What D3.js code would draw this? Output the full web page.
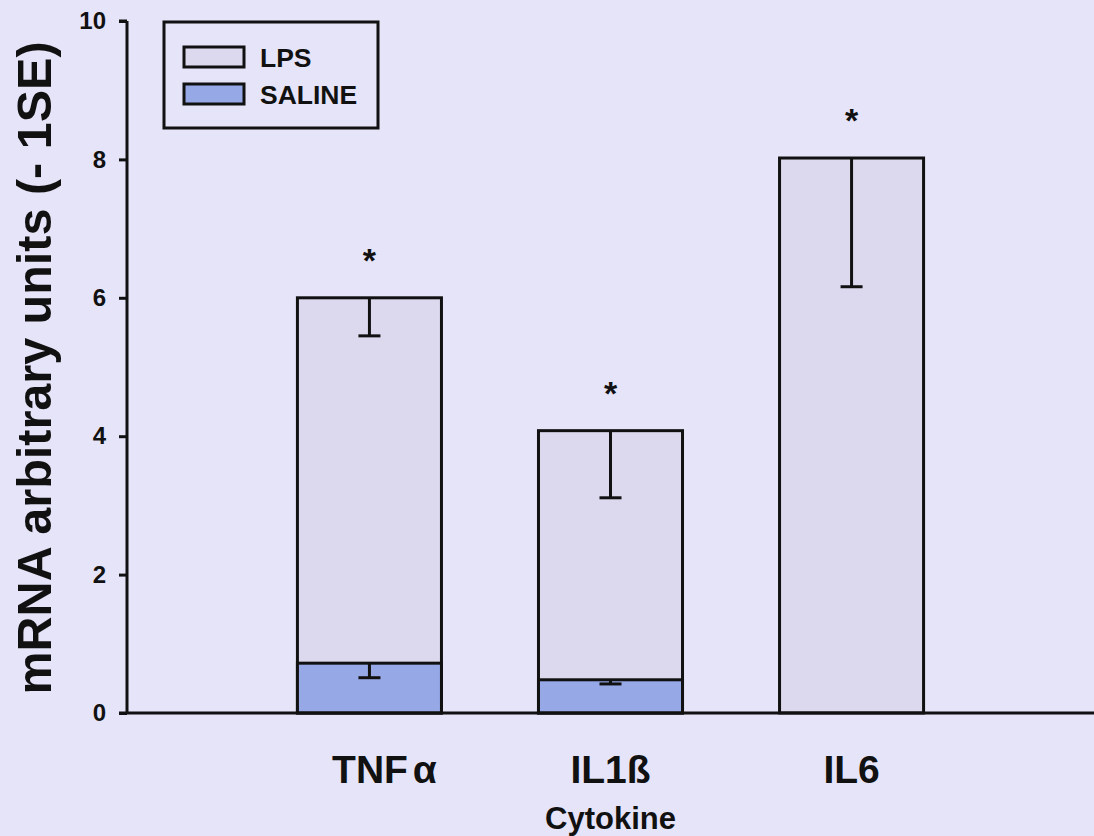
<!DOCTYPE html>
<html>
<head>
<meta charset="utf-8">
<script src="https://cdn.jsdelivr.net/npm/d3@7"></script>
<style>
  html, body { margin: 0; padding: 0; background: #e6e4f8; }
  svg { display: block; }
  text { font-family: "Liberation Sans", Arial, sans-serif; font-weight: bold; fill: #111; }
</style>
</head>
<body>
<svg id="chart" width="1094" height="836"></svg>
<script>
const categories = ["TNFα", "IL1ß", "IL6"];
const lpsValues = [6.0, 4.08, 8.02];
const lpsErrors = [0.55, 0.97, 1.86];
const salineValues = [0.72, 0.48, 0];
const salineErrors = [0.21, 0.06, 0];
const significant = [true, true, true];
const yTicks = [0, 2, 4, 6, 8, 10];
const seriesNames = ["LPS", "SALINE"];
const seriesColors = ["#dcd9ee", "#97a8e6"];

const svg = d3.select("#chart");
const W = 1094, H = 836;
const axisX = 127;

const y = d3.scaleLinear().domain([0, 10]).range([713, 21]);
const x = d3.scaleBand().domain(categories).range([axisX, W])
  .paddingInner(0.4025).paddingOuter(0.707);

const bw = x.bandwidth();

// LPS bars
svg.append("g").selectAll("rect").data(categories).join("rect")
  .attr("x", d => x(d))
  .attr("y", (d, i) => y(lpsValues[i]))
  .attr("width", bw)
  .attr("height", (d, i) => y(0) - y(lpsValues[i]))
  .attr("fill", seriesColors[0])
  .attr("stroke", "#111").attr("stroke-width", 3);

// Saline bars
svg.append("g").selectAll("rect").data(categories.filter((d, i) => salineValues[i] > 0)).join("rect")
  .attr("x", d => x(d))
  .attr("y", d => y(salineValues[categories.indexOf(d)]))
  .attr("width", bw)
  .attr("height", d => y(0) - y(salineValues[categories.indexOf(d)]))
  .attr("fill", seriesColors[1])
  .attr("stroke", "#111").attr("stroke-width", 3);

// error bars (downward, -1SE)
function errBars(vals, errs) {
  const g = svg.append("g").attr("stroke", "#111").attr("stroke-width", 3);
  categories.forEach((c, i) => {
    if (!errs[i]) return;
    const cx = x(c) + bw / 2;
    g.append("line").attr("x1", cx).attr("x2", cx)
      .attr("y1", y(vals[i])).attr("y2", y(vals[i] - errs[i]));
    g.append("line").attr("x1", cx - 11).attr("x2", cx + 11)
      .attr("y1", y(vals[i] - errs[i])).attr("y2", y(vals[i] - errs[i]));
  });
}
errBars(lpsValues, lpsErrors);
errBars(salineValues, salineErrors);

// significance stars
svg.append("g").selectAll("text").data(categories.filter((d, i) => significant[i])).join("text")
  .attr("x", d => x(d) + bw / 2)
  .attr("y", d => y(lpsValues[categories.indexOf(d)]) - 26)
  .attr("text-anchor", "middle")
  .attr("font-size", 34)
  .text("*");

// y axis
const yAxis = svg.append("g").attr("transform", `translate(${axisX},0)`)
  .call(d3.axisLeft(y).tickValues(yTicks).tickSize(8).tickPadding(13).tickFormat(d3.format("d")));
yAxis.select(".domain").attr("d", `M0,${y(10)}H-8M0,${y(10)}V${y(0)}`).attr("stroke", "#111").attr("stroke-width", 3).attr("fill", "none");
yAxis.selectAll(".tick line").attr("stroke", "#111").attr("stroke-width", 3);
yAxis.selectAll(".tick text").attr("font-size", 24).attr("fill", "#111")
  .attr("font-family", "Liberation Sans, Arial, sans-serif").attr("font-weight", "bold");

// x axis
const xAxis = svg.append("g").attr("transform", `translate(0,${y(0)})`)
  .call(d3.axisBottom(x).tickSize(0).tickPadding(42));
xAxis.select(".domain").attr("d", `M${axisX - 8},0H${W}`).attr("stroke", "#111").attr("stroke-width", 3);
xAxis.selectAll(".tick text").attr("font-size", 39).attr("fill", "#111")
  .attr("font-family", "Liberation Sans, Arial, sans-serif").attr("font-weight", "bold")
  .each(function(d) {
    // the Greek letter is set slightly apart from the latin part, as in the original
    if (d === "TNFα") {
      const t = d3.select(this).text(null).attr("dx", 15);
      t.append("tspan").text("TNF");
      t.append("tspan").attr("dx", 5).text("α");
    }
  });

// axis titles
svg.append("text").attr("transform", `translate(51,${368}) rotate(-90)`)
  .attr("text-anchor", "middle").attr("font-size", 48.5).text("mRNA arbitrary units (- 1SE)");
svg.append("text").attr("x", x(categories[1]) + bw / 2).attr("y", 829)
  .attr("text-anchor", "middle").attr("font-size", 31).text("Cytokine");

// legend
const lg = svg.append("g");
lg.append("rect").attr("x", 164).attr("y", 22).attr("width", 214).attr("height", 106)
  .attr("fill", "none").attr("stroke", "#111").attr("stroke-width", 3);
seriesNames.forEach((s, i) => {
  lg.append("rect").attr("x", 184).attr("y", 47 + i * 37).attr("width", 60).attr("height", 20)
    .attr("fill", seriesColors[i]).attr("stroke", "#111").attr("stroke-width", 3);
  lg.append("text").attr("x", 260).attr("y", 67 + i * 37).attr("font-size", 26.5).text(s);
});
</script>
</body>
</html>
